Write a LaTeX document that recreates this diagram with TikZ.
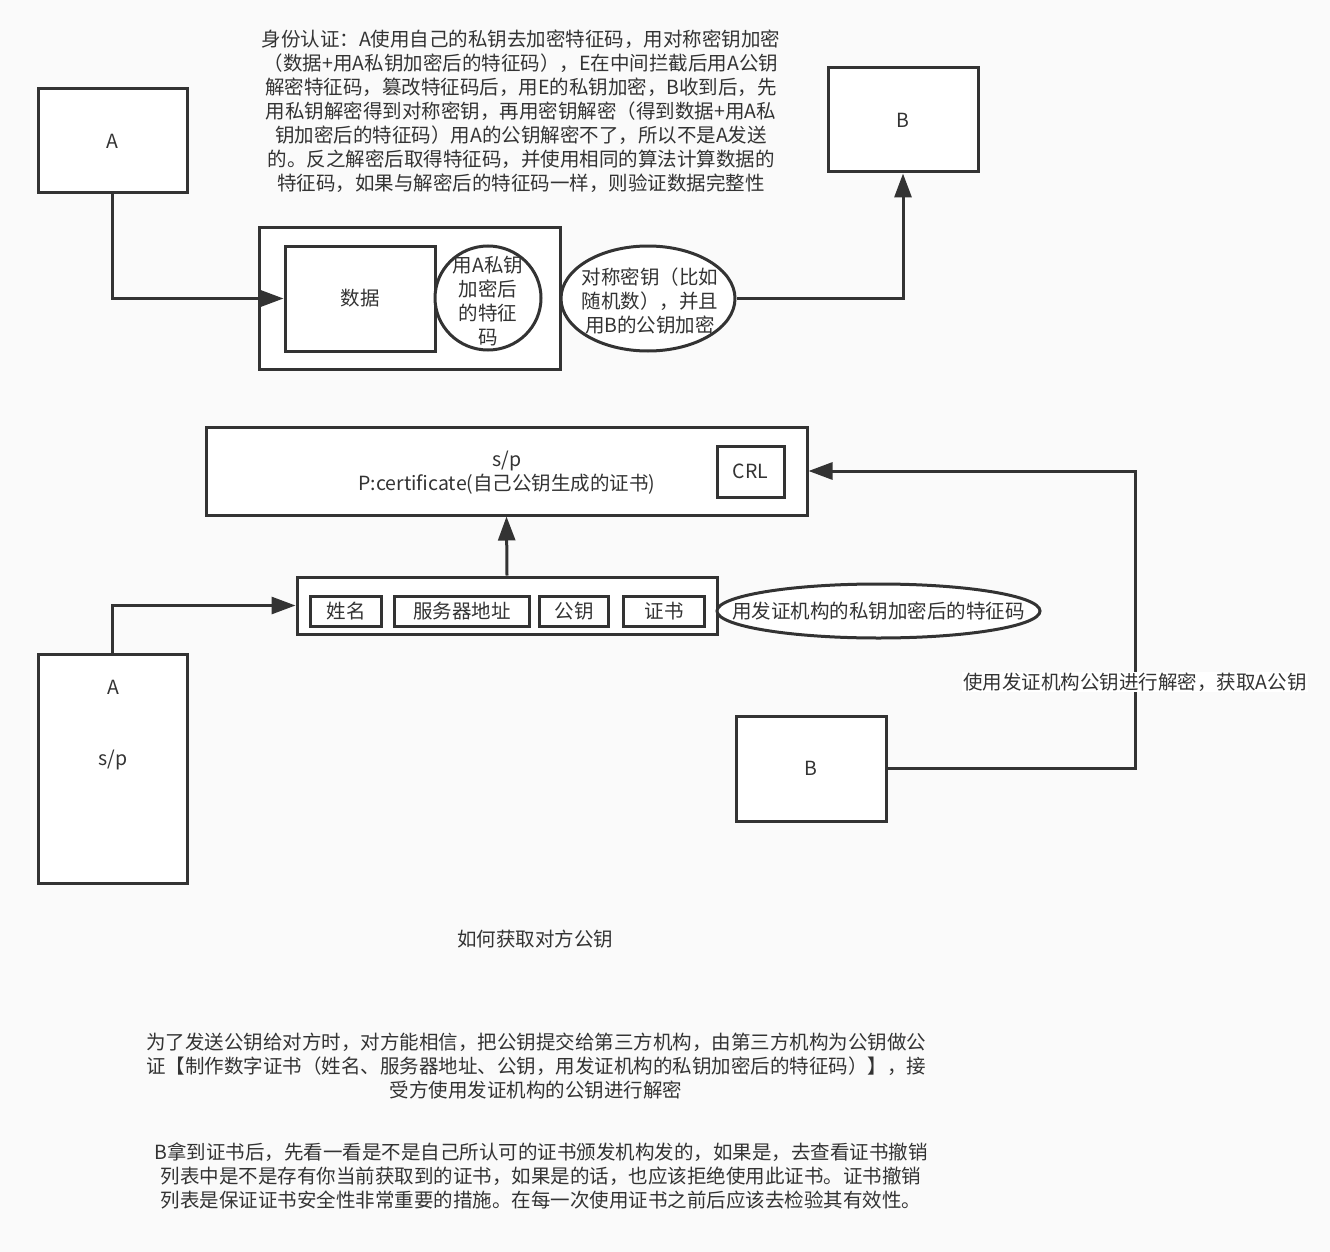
\documentclass[tikz,border=0pt]{standalone}
\usepackage{fontspec}
\setmainfont{Noto Sans CJK SC}
\usetikzlibrary{arrows.meta,shapes.geometric}
\definecolor{ln}{HTML}{333333}
\definecolor{tx}{HTML}{333333}
\definecolor{bg}{HTML}{FAFAFA}
\newcommand{\fsz}{\fontsize{19.5}{24}\selectfont}
\tikzset{
  box/.style={draw=ln, line width=3pt, fill=white, inner sep=0pt, text=tx, font=\fsz},
  oval/.style={ellipse, draw=ln, line width=3pt, fill=white, inner sep=0pt},
  txt/.style={text=tx, align=center, inner sep=0pt, font=\fsz},
  arr/.style={draw=ln, line width=3pt, -{Triangle[length=24pt,width=17pt]}},
}
\begin{document}
\begin{tikzpicture}[x=1pt,y=-1pt]
\fill[bg] (0,0) rectangle (1330,1252);
\useasboundingbox (0,0) rectangle (1330,1252);

% ---------- top part ----------
\node[txt] (intro) at (521,111) {身份认证：A使用自己的私钥去加密特征码，用对称密钥加密\\
（数据+用A私钥加密后的特征码），E在中间拦截后用A公钥\\
解密特征码，篡改特征码后，用E的私钥加密，B收到后，先\\
用私钥解密得到对称密钥，再用密钥解密（得到数据+用A私\\
钥加密后的特征码）用A的公钥解密不了，所以不是A发送\\
的。反之解密后取得特征码，并使用相同的算法计算数据的\\
特征码，如果与解密后的特征码一样，则验证数据完整性};

\node[box, minimum width=149pt, minimum height=104pt] (A1) at (112.5,141) {A};
\node[box, minimum width=150pt, minimum height=104pt] (B1) at (903,120) {B};

\node[box, minimum width=301pt, minimum height=142pt] (pkg) at (409.5,298) {};
\node[box, minimum width=150pt, minimum height=105pt] (data) at (360,298.5) {数据};
\node[oval, minimum width=106pt, minimum height=104pt] (sig) at (488,298) {};
\node[txt] (sigt) at (488,301) {用A私钥\\加密后\\的特征\\码};
\node[oval, minimum width=174pt, minimum height=105pt] (key) at (648,298.5) {};
\node[txt] (keyt) at (650,301) {对称密钥（比如\\随机数），并且\\用B的公钥加密};

\draw[arr] (A1.south) |- (data.west);
\draw[arr] (key.east) -| (B1.south);

% ---------- certificate part ----------
\node[box, minimum width=601pt, minimum height=88pt] (cert) at (506.5,471) {};
\node[txt] (certt) at (507,473) {s/p\\P:certificate(自己公钥生成的证书)};
\node[box, minimum width=67pt, minimum height=51pt] (crl) at (750.5,471.5) {CRL};

\node[box, minimum width=420pt, minimum height=57pt] (items) at (507,605.5) {};
\node[box, minimum width=71pt, minimum height=30pt] (i1) at (346,611) {姓名};
\node[box, minimum width=135pt, minimum height=30pt] (i2) at (462,611) {服务器地址};
\node[box, minimum width=69pt, minimum height=30pt] (i3) at (574,611) {公钥};
\node[box, minimum width=81pt, minimum height=30pt] (i4) at (664,611) {证书};
\node[oval, minimum width=323pt, minimum height=54pt] (casig) at (878.5,611) {};
\node[txt] (casigt) at (878.5,611) {用发证机构的私钥加密后的特征码};

\node[box, minimum width=149pt, minimum height=229pt] (A2) at (112.5,768.5) {};
\node[txt] (A2a) at (113,687) {A};
\node[txt] (A2b) at (113,760) {s/p};
\node[box, minimum width=150pt, minimum height=105pt] (B2) at (811,768.5) {B};

\coordinate (turn) at (1135,470);
\draw[arr] (items.north) -- (cert.south);
\draw[arr] (A2.north) |- (items.west);
\draw[arr] (B2.east) -| (cert.east -| turn) -- (cert.east);
\node[txt, fill=white, inner sep=1pt] (lbl) at (1135,682) {使用发证机构公钥进行解密，获取A公钥};

% ---------- texts ----------
\node[txt] (title) at (535,939) {如何获取对方公钥};
\node[txt] (p1) at (536,1066) {为了发送公钥给对方时，对方能相信，把公钥提交给第三方机构，由第三方机构为公钥做公\\
证【制作数字证书（姓名、服务器地址、公钥，用发证机构的私钥加密后的特征码）】，接\\
受方使用发证机构的公钥进行解密};
\node[txt] (p2) at (541,1176) {B拿到证书后，先看一看是不是自己所认可的证书颁发机构发的，如果是，去查看证书撤销\\
列表中是不是存有你当前获取到的证书，如果是的话，也应该拒绝使用此证书。证书撤销\\
列表是保证证书安全性非常重要的措施。在每一次使用证书之前后应该去检验其有效性。};
\end{tikzpicture}
\end{document}
